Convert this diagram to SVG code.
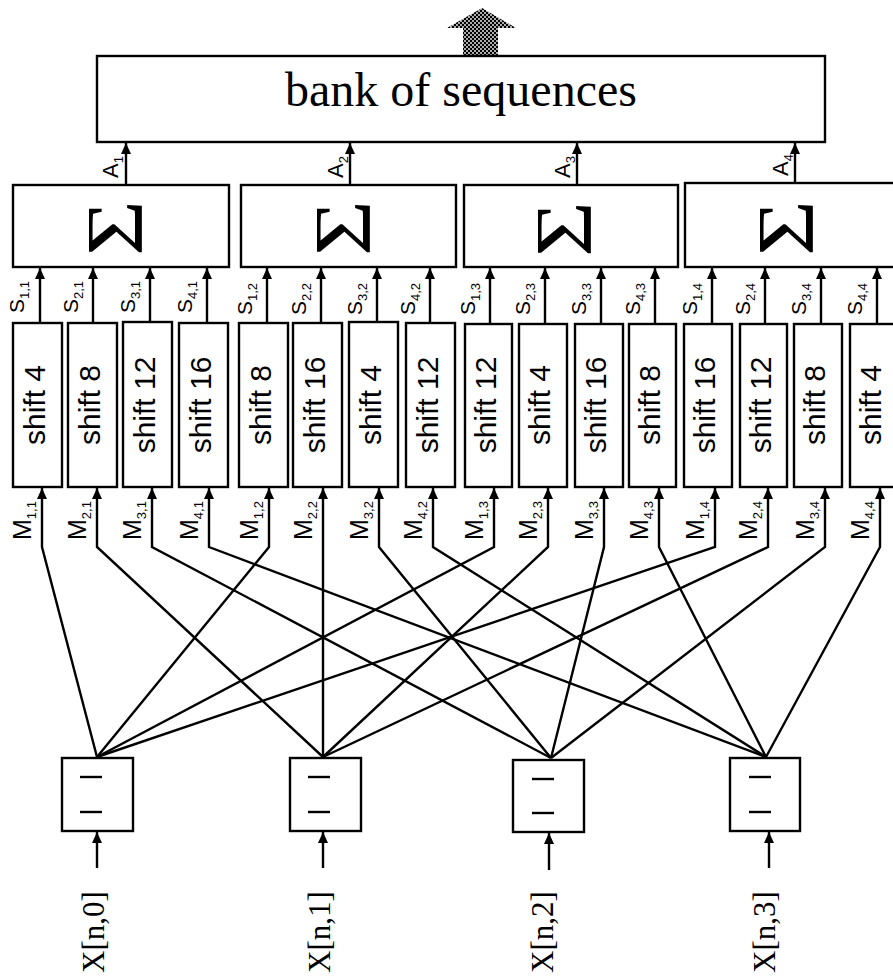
<svg xmlns="http://www.w3.org/2000/svg" width="893" height="980" viewBox="0 0 893 980">
<defs>
<style>
.box{fill:#fff;stroke:#000;stroke-width:2.4}
.ln{fill:none;stroke:#000;stroke-width:2.4}
.ar{fill:none;stroke:#000;stroke-width:2.4;marker-end:url(#ah)}
.sans{font-family:"Liberation Sans",Arial,sans-serif;fill:#000}
.ser{font-family:"Liberation Serif","Times New Roman",serif;fill:#000}
.sh{font-size:30px;text-anchor:middle}
.sig{font-size:80px;text-anchor:middle}
.xl{font-size:31px;text-anchor:middle}
.sl{font-size:21px}
.ml{font-size:25px}
.al{font-size:22px}
.sub{font-size:13px}
</style>
<marker id="ah" markerUnits="userSpaceOnUse" viewBox="0 0 11 10" markerWidth="11" markerHeight="10" refX="11" refY="5" orient="auto">
<path d="M0,0 L11,5 L0,10 z" fill="#000"/>
</marker>
<pattern id="dots" patternUnits="userSpaceOnUse" width="4" height="4">
<rect width="4" height="4" fill="#000"/>
<circle cx="1" cy="1" r="0.9" fill="#fff"/>
<circle cx="3" cy="3" r="0.9" fill="#fff"/>
</pattern>
</defs>
<rect width="893" height="980" fill="#fff"/>

<g id="output">
<polygon points="463,55 463,28 447,28 482,8 516,28 498,28 498,55" fill="url(#dots)"/>
</g>

<g id="bank">
<rect class="box" x="97" y="56" width="728" height="86"/>
<text class="ser" x="461" y="106" font-size="48" text-anchor="middle">bank of sequences</text>
</g>

<g id="sum1"><rect class="box" x="13" y="185" width="216" height="82"/><text class="ser sig" transform="translate(142,228) rotate(-90) scale(1.2,1)">Σ</text></g>
<g id="sum2"><rect class="box" x="241" y="185" width="215" height="82"/><text class="ser sig" transform="translate(370,228) rotate(-90) scale(1.2,1)">Σ</text></g>
<g id="sum3"><rect class="box" x="464" y="185" width="214" height="82"/><text class="ser sig" transform="translate(591,229) rotate(-90) scale(1.2,1)">Σ</text></g>
<g id="sum4"><rect class="box" x="685" y="183" width="215" height="84"/><text class="ser sig" transform="translate(813,228) rotate(-90) scale(1.2,1)">Σ</text></g>

<g id="shift1_1"><rect class="box" x="13" y="323" width="49" height="164"/><text class="sans sh" transform="translate(45,405) rotate(-90)">shift 4</text></g>
<g id="shift2_1"><rect class="box" x="68" y="323" width="49" height="164"/><text class="sans sh" transform="translate(100,405) rotate(-90)">shift 8</text></g>
<g id="shift3_1"><rect class="box" x="123" y="322" width="49" height="165"/><text class="sans sh" transform="translate(155,405) rotate(-90)">shift 12</text></g>
<g id="shift4_1"><rect class="box" x="179" y="323" width="49" height="164"/><text class="sans sh" transform="translate(211,405) rotate(-90)">shift 16</text></g>
<g id="shift1_2"><rect class="box" x="239" y="323" width="49" height="164"/><text class="sans sh" transform="translate(271,405) rotate(-90)">shift 8</text></g>
<g id="shift2_2"><rect class="box" x="293" y="323" width="49" height="164"/><text class="sans sh" transform="translate(325,405) rotate(-90)">shift 16</text></g>
<g id="shift3_2"><rect class="box" x="349" y="322" width="49" height="165"/><text class="sans sh" transform="translate(381,405) rotate(-90)">shift 4</text></g>
<g id="shift4_2"><rect class="box" x="406" y="323" width="49" height="164"/><text class="sans sh" transform="translate(438,405) rotate(-90)">shift 12</text></g>
<g id="shift1_3"><rect class="box" x="465" y="324" width="47" height="163"/><text class="sans sh" transform="translate(496,405) rotate(-90)">shift 12</text></g>
<g id="shift2_3"><rect class="box" x="519" y="324" width="48" height="163"/><text class="sans sh" transform="translate(550,405) rotate(-90)">shift 4</text></g>
<g id="shift3_3"><rect class="box" x="575" y="324" width="48" height="163"/><text class="sans sh" transform="translate(606,405) rotate(-90)">shift 16</text></g>
<g id="shift4_3"><rect class="box" x="629" y="324" width="47" height="163"/><text class="sans sh" transform="translate(660,405) rotate(-90)">shift 8</text></g>
<g id="shift1_4"><rect class="box" x="684" y="324" width="48" height="163"/><text class="sans sh" transform="translate(715,405) rotate(-90)">shift 16</text></g>
<g id="shift2_4"><rect class="box" x="740" y="324" width="47" height="163"/><text class="sans sh" transform="translate(771,405) rotate(-90)">shift 12</text></g>
<g id="shift3_4"><rect class="box" x="794" y="324" width="48" height="163"/><text class="sans sh" transform="translate(825,405) rotate(-90)">shift 8</text></g>
<g id="shift4_4"><rect class="box" x="850" y="324" width="48" height="163"/><text class="sans sh" transform="translate(881,405) rotate(-90)">shift 4</text></g>

<g id="reg0"><rect class="box" x="62" y="758" width="71" height="73"/><line class="ln" x1="80" y1="777" x2="102" y2="777"/><line class="ln" x1="80" y1="812" x2="102" y2="812"/></g>
<g id="reg1"><rect class="box" x="290" y="758" width="71" height="73"/><line class="ln" x1="308" y1="777" x2="330" y2="777"/><line class="ln" x1="308" y1="812" x2="330" y2="812"/></g>
<g id="reg2"><rect class="box" x="513" y="760" width="71" height="72"/><line class="ln" x1="532" y1="779" x2="554" y2="779"/><line class="ln" x1="532" y1="813" x2="554" y2="813"/></g>
<g id="reg3"><rect class="box" x="730" y="758" width="70" height="73"/><line class="ln" x1="749" y1="777" x2="771" y2="777"/><line class="ln" x1="749" y1="812" x2="771" y2="812"/></g>

<g id="connectors">
<path class="ar" d="M126,185 V143"/>
<path class="ar" d="M350,185 V143"/>
<path class="ar" d="M577,185 V143"/>
<path class="ar" d="M795,183 V143"/>

<path class="ar" d="M40,323 V268"/>
<path class="ar" d="M93,323 V268"/>
<path class="ar" d="M150,322 V268"/>
<path class="ar" d="M207,323 V268"/>
<path class="ar" d="M267,323 V268"/>
<path class="ar" d="M321,323 V268"/>
<path class="ar" d="M377,322 V268"/>
<path class="ar" d="M430,323 V268"/>
<path class="ar" d="M490,324 V268"/>
<path class="ar" d="M545,324 V268"/>
<path class="ar" d="M601,324 V268"/>
<path class="ar" d="M655,324 V268"/>
<path class="ar" d="M712,324 V268"/>
<path class="ar" d="M765,324 V268"/>
<path class="ar" d="M821,324 V268"/>
<path class="ar" d="M877,324 V268"/>

<path class="ar" d="M97,757 L42,547 V488"/>
<path class="ar" d="M323,757 L97,547 V488"/>
<path class="ar" d="M551,758 L152,547 V488"/>
<path class="ar" d="M766,757 L209,547 V488"/>
<path class="ar" d="M97,757 L269,547 V488"/>
<path class="ar" d="M323,757 L323,547 V488"/>
<path class="ar" d="M551,758 L379,547 V488"/>
<path class="ar" d="M766,757 L433,547 V488"/>
<path class="ar" d="M97,757 L494,547 V488"/>
<path class="ar" d="M323,757 L548,547 V488"/>
<path class="ar" d="M551,758 L604,547 V488"/>
<path class="ar" d="M766,757 L659,547 V488"/>
<path class="ar" d="M97,757 L715,547 V488"/>
<path class="ar" d="M323,757 L768,547 V488"/>
<path class="ar" d="M551,758 L825,547 V488"/>
<path class="ar" d="M766,757 L880,547 V488"/>

<path class="ar" d="M97,868 V832"/>
<path class="ar" d="M323,868 V832"/>
<path class="ar" d="M549,870 V833"/>
<path class="ar" d="M769,868 V832"/>
</g>

<g id="connector-labels">
<text class="sans al" transform="translate(118,178) rotate(-90)">A<tspan class="sub" dy="5">1</tspan></text>
<text class="sans al" transform="translate(343,178) rotate(-90)">A<tspan class="sub" dy="5">2</tspan></text>
<text class="sans al" transform="translate(570,178) rotate(-90)">A<tspan class="sub" dy="5">3</tspan></text>
<text class="sans al" transform="translate(788,176) rotate(-90)">A<tspan class="sub" dy="5">4</tspan></text>

<text class="sans sl" transform="translate(24,313) rotate(-90)">S<tspan class="sub" dy="5">1,1</tspan></text>
<text class="sans sl" transform="translate(78,313) rotate(-90)">S<tspan class="sub" dy="5">2,1</tspan></text>
<text class="sans sl" transform="translate(135,313) rotate(-90)">S<tspan class="sub" dy="5">3,1</tspan></text>
<text class="sans sl" transform="translate(192,313) rotate(-90)">S<tspan class="sub" dy="5">4,1</tspan></text>
<text class="sans sl" transform="translate(252,315) rotate(-90)">S<tspan class="sub" dy="5">1,2</tspan></text>
<text class="sans sl" transform="translate(306,315) rotate(-90)">S<tspan class="sub" dy="5">2,2</tspan></text>
<text class="sans sl" transform="translate(362,315) rotate(-90)">S<tspan class="sub" dy="5">3,2</tspan></text>
<text class="sans sl" transform="translate(415,315) rotate(-90)">S<tspan class="sub" dy="5">4,2</tspan></text>
<text class="sans sl" transform="translate(475,315) rotate(-90)">S<tspan class="sub" dy="5">1,3</tspan></text>
<text class="sans sl" transform="translate(530,315) rotate(-90)">S<tspan class="sub" dy="5">2,3</tspan></text>
<text class="sans sl" transform="translate(586,315) rotate(-90)">S<tspan class="sub" dy="5">3,3</tspan></text>
<text class="sans sl" transform="translate(640,315) rotate(-90)">S<tspan class="sub" dy="5">4,3</tspan></text>
<text class="sans sl" transform="translate(697,315) rotate(-90)">S<tspan class="sub" dy="5">1,4</tspan></text>
<text class="sans sl" transform="translate(750,315) rotate(-90)">S<tspan class="sub" dy="5">2,4</tspan></text>
<text class="sans sl" transform="translate(806,315) rotate(-90)">S<tspan class="sub" dy="5">3,4</tspan></text>
<text class="sans sl" transform="translate(862,315) rotate(-90)">S<tspan class="sub" dy="5">4,4</tspan></text>

<text class="sans ml" transform="translate(31,540) rotate(-90)">M<tspan class="sub" dy="5">1,1</tspan></text>
<text class="sans ml" transform="translate(86,540) rotate(-90)">M<tspan class="sub" dy="5">2,1</tspan></text>
<text class="sans ml" transform="translate(141,540) rotate(-90)">M<tspan class="sub" dy="5">3,1</tspan></text>
<text class="sans ml" transform="translate(198,540) rotate(-90)">M<tspan class="sub" dy="5">4,1</tspan></text>
<text class="sans ml" transform="translate(258,540) rotate(-90)">M<tspan class="sub" dy="5">1,2</tspan></text>
<text class="sans ml" transform="translate(312,540) rotate(-90)">M<tspan class="sub" dy="5">2,2</tspan></text>
<text class="sans ml" transform="translate(368,540) rotate(-90)">M<tspan class="sub" dy="5">3,2</tspan></text>
<text class="sans ml" transform="translate(422,540) rotate(-90)">M<tspan class="sub" dy="5">4,2</tspan></text>
<text class="sans ml" transform="translate(483,540) rotate(-90)">M<tspan class="sub" dy="5">1,3</tspan></text>
<text class="sans ml" transform="translate(537,540) rotate(-90)">M<tspan class="sub" dy="5">2,3</tspan></text>
<text class="sans ml" transform="translate(593,540) rotate(-90)">M<tspan class="sub" dy="5">3,3</tspan></text>
<text class="sans ml" transform="translate(648,540) rotate(-90)">M<tspan class="sub" dy="5">4,3</tspan></text>
<text class="sans ml" transform="translate(704,540) rotate(-90)">M<tspan class="sub" dy="5">1,4</tspan></text>
<text class="sans ml" transform="translate(757,540) rotate(-90)">M<tspan class="sub" dy="5">2,4</tspan></text>
<text class="sans ml" transform="translate(814,540) rotate(-90)">M<tspan class="sub" dy="5">3,4</tspan></text>
<text class="sans ml" transform="translate(869,540) rotate(-90)">M<tspan class="sub" dy="5">4,4</tspan></text>
</g>

<g id="inputs">
<text class="ser xl" transform="translate(104,932) rotate(-90)">X[n,0]</text>
<text class="ser xl" transform="translate(330,932) rotate(-90)">X[n,1]</text>
<text class="ser xl" transform="translate(553,932) rotate(-90)">X[n,2]</text>
<text class="ser xl" transform="translate(775,932) rotate(-90)">X[n,3]</text>
</g>
</svg>
